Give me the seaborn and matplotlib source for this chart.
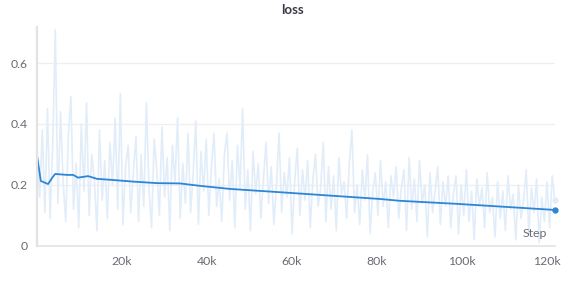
import numpy as np
import pandas as pd
import matplotlib
matplotlib.use("Agg")
import matplotlib.pyplot as plt
import seaborn as sns
from matplotlib.ticker import FuncFormatter

raw_loss = [
    0.30, 0.16, 0.38, 0.11, 0.45, 0.09, 0.33, 0.71, 0.14, 0.44, 0.21, 0.08, 0.36, 0.49, 0.12, 0.27, 0.06, 0.40, 0.18, 0.47,
    0.10, 0.30, 0.22, 0.05, 0.38, 0.15, 0.28, 0.09, 0.34, 0.20, 0.42, 0.12, 0.50, 0.07, 0.26, 0.33, 0.11, 0.24, 0.36, 0.08,
    0.30, 0.13, 0.47, 0.19, 0.06, 0.35, 0.25, 0.10, 0.39, 0.16, 0.29, 0.05, 0.33, 0.21, 0.42, 0.09, 0.27, 0.14, 0.37, 0.11,
    0.24, 0.41, 0.07, 0.31, 0.18, 0.35, 0.10, 0.26, 0.37, 0.13, 0.22, 0.08, 0.30, 0.37, 0.15, 0.28, 0.06, 0.33, 0.19, 0.45,
    0.12, 0.25, 0.05, 0.31, 0.17, 0.27, 0.09, 0.22, 0.34, 0.14, 0.26, 0.07, 0.20, 0.37, 0.11, 0.24, 0.16, 0.29, 0.04, 0.21,
    0.32, 0.10, 0.25, 0.15, 0.28, 0.06, 0.22, 0.30, 0.13, 0.19, 0.34, 0.08, 0.26, 0.12, 0.23, 0.05, 0.29, 0.17, 0.21, 0.09,
    0.27, 0.38, 0.11, 0.20, 0.07, 0.25, 0.15, 0.30, 0.04, 0.18, 0.24, 0.10, 0.28, 0.13, 0.21, 0.06, 0.23, 0.16, 0.26, 0.09,
    0.19, 0.25, 0.05, 0.29, 0.12, 0.22, 0.08, 0.28, 0.14, 0.20, 0.03, 0.24, 0.11, 0.18, 0.26, 0.07, 0.21, 0.13, 0.23, 0.06,
    0.17, 0.23, 0.04, 0.20, 0.10, 0.25, 0.08, 0.18, 0.02, 0.22, 0.13, 0.19, 0.06, 0.24, 0.11, 0.16, 0.03, 0.21, 0.09, 0.18,
    0.05, 0.23, 0.12, 0.17, 0.02, 0.20, 0.09, 0.15, 0.25, 0.04, 0.19, 0.11, 0.22, 0.01, 0.16, 0.08, 0.21, 0.06, 0.23, 0.15,
]
last_step = 121900
raw_steps = np.linspace(0, last_step, len(raw_loss))

# smoothed curve
smooth_steps = [0, 870, 2590, 3530, 4240, 7060, 8470, 9650, 12000, 14100, 17200, 22600,
                28200, 33600, 38400, 45400, 59500, 80700, 85400, 98800, 121900]
smooth_loss = [0.295, 0.213, 0.203, 0.223, 0.236, 0.233, 0.233, 0.224, 0.229, 0.220, 0.217, 0.211,
               0.206, 0.205, 0.197, 0.187, 0.174, 0.154, 0.148, 0.138, 0.118]

xticks = [20000, 40000, 60000, 80000, 100000, 120000]
yticks = [0, 0.2, 0.4, 0.6]

raw_df = pd.DataFrame({"step": raw_steps, "loss": raw_loss})
smooth_df = pd.DataFrame({"step": smooth_steps, "loss": smooth_loss})

sns.set_style("white")
plt.rcParams["font.family"] = ["Lato", "DejaVu Sans"]

fig = plt.figure(figsize=(5.62, 2.82), dpi=100)
ax = fig.add_axes([0.066, 0.128, 0.922, 0.776])

text_col = "#6b6b75"
line_col = "#2b86d8"
raw_col = "#e2edfa"

sns.lineplot(data=raw_df, x="step", y="loss", ax=ax, color=raw_col, lw=1.2)
sns.lineplot(data=smooth_df, x="step", y="loss", ax=ax, color=line_col, lw=1.3)
ax.plot(smooth_steps[-1], smooth_loss[-1], "o", color=line_col, ms=3.5, clip_on=False, zorder=5)
ax.plot(raw_steps[-1], raw_loss[-1], "o", color=raw_col, ms=3.5, clip_on=False, zorder=4)

ax.set_xlim(0, 122000)
ax.set_ylim(0, 0.718)
ax.set_xticks(xticks)
ax.set_yticks(yticks)
ax.xaxis.set_major_formatter(FuncFormatter(lambda v, p: f"{int(v/1000)}k"))
ax.yaxis.set_major_formatter(FuncFormatter(lambda v, p: "0" if v == 0 else f"{v:.1f}"))
ax.grid(axis="y", color="#efefef", lw=0.9)
ax.grid(axis="x", visible=False)
ax.set_axisbelow(True)

for s in ["top", "right"]:
    ax.spines[s].set_visible(False)
ax.spines["left"].set_color("#e3e3e3")
ax.spines["left"].set_linewidth(1.6)
ax.spines["bottom"].set_color("#e3e3e3")
ax.spines["bottom"].set_linewidth(1.2)
ax.tick_params(axis="both", colors="#dddddd", labelcolor=text_col, labelsize=8.8,
               length=4, width=0.9, pad=3)
ax.set_xlabel("")
ax.set_ylabel("")

ax.text(0.985, 0.03, "Step", transform=ax.transAxes, ha="right", va="bottom",
        color=text_col, fontsize=8.8)
fig.suptitle("loss", x=0.52, y=0.985, fontsize=9.5, fontweight="bold", color="#3a3a44")

fig.savefig("out.png", dpi=100)
